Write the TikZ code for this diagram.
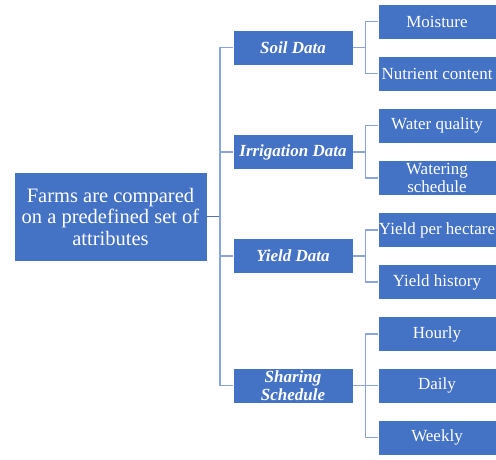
\documentclass[tikz,border=0pt]{standalone}
\usepackage{fontspec}
\setmainfont{Liberation Serif}
\definecolor{boxblue}{HTML}{4472C4}
\definecolor{linkblue}{HTML}{8AA4D8}
\definecolor{trunkblue}{HTML}{4F72BA}
\begin{document}
\begin{tikzpicture}[x=1pt,y=-1pt,
    box/.style={fill=boxblue,draw=white,line width=0.4pt,text=white,inner sep=0pt,align=center},
    rootbox/.style={box,minimum width=193pt,minimum height=89pt,font=\fontsize{20.5}{21.5}\selectfont},
    catbox/.style={box,minimum width=120pt,minimum height=35pt,font=\fontsize{17}{17.5}\selectfont\bfseries\itshape},
    leafbox/.style={box,minimum width=118pt,minimum height=35pt,font=\fontsize{17}{17.5}\selectfont},
    link/.style={draw=linkblue,line width=1.2pt}]
    \useasboundingbox (0,0) rectangle (496,459);
    \node [rootbox] (farms) at (110.5,216.5) {Farms are compared\\on a predefined set of\\attributes};
    \node [catbox] (soil) at (293,47.5) {Soil Data};
    \node [catbox] (irrig) at (293,152) {Irrigation Data};
    \node [catbox] (yield) at (293,256) {Yield Data};
    \node [catbox] (share) at (293,385.5) {Sharing\\Schedule};
    \node [leafbox] (moist) at (437,21.5) {Moisture};
    \node [leafbox] (nutr) at (437,73.5) {Nutrient content};
    \node [leafbox] (wqual) at (437,125.5) {Water quality};
    \node [leafbox] (wsched) at (437,178) {Watering\\schedule};
    \node [leafbox] (yha) at (437,230) {Yield per hectare};
    \node [leafbox] (yhist) at (437,282) {Yield history};
    \node [leafbox] (hourly) at (437,334) {Hourly};
    \node [leafbox] (daily) at (437,385.5) {Daily};
    \node [leafbox] (weekly) at (437,437.5) {Weekly};
    % trunk from the root box
    \coordinate (trunk) at (220,216.5);
    \draw [link,draw=trunkblue] (farms.east) -- (trunk);
    \foreach \c in {soil,irrig,yield,share}
      \draw [link] (trunk) |- (\c.west);
    % second level
    \draw [link] (soil.east) -- ++(12,0) coordinate (soilbus);
    \draw [link] (moist.west) -| (soilbus) |- (nutr.west);
    \draw [link] (irrig.east) -- ++(12,0) coordinate (irrigbus);
    \draw [link] (wqual.west) -| (irrigbus) |- (wsched.west);
    \draw [link] (yield.east) -- ++(12,0) coordinate (yieldbus);
    \draw [link] (yha.west) -| (yieldbus) |- (yhist.west);
    \draw [link] (share.east) -- ++(12,0) coordinate (sharebus);
    \draw [link] (hourly.west) -| (sharebus) |- (weekly.west);
    \draw [link] (sharebus) -- (daily.west);
\end{tikzpicture}
\end{document}
